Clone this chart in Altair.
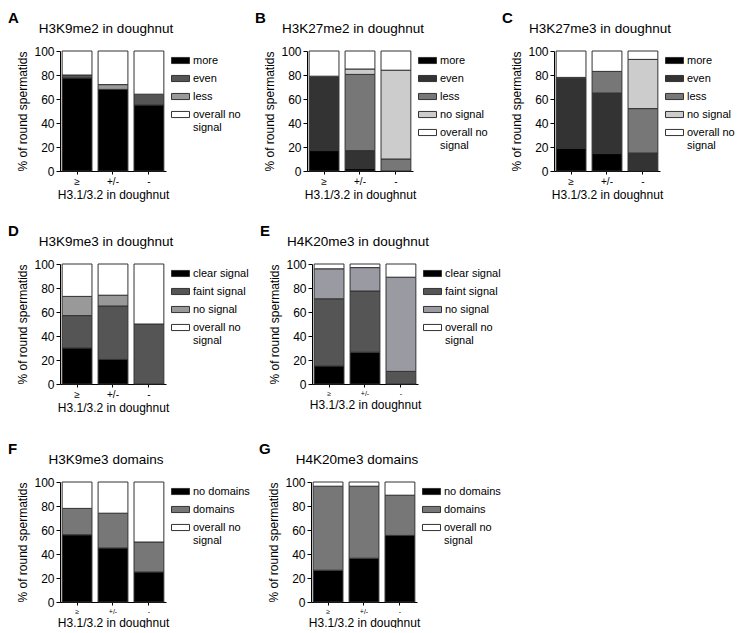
import altair as alt
import pandas as pd

groups = ["≥", "+/-", "-"]

# Panel A: H3K9me2 in doughnut
a_series = ["more", "even", "less", "overall no signal"]
a_colors = ["#000000", "#555555", "#999999", "#ffffff"]
a_more = [77.5, 68, 55]
a_even = [2.5, 0, 9]
a_less = [0, 4, 0]
a_none = [20, 28, 36]

# Panel B: H3K27me2 in doughnut
b_series = ["more", "even", "less", "no signal", "overall no signal"]
b_colors = ["#000000", "#333333", "#777777", "#cccccc", "#ffffff"]
b_more = [17, 2, 0]
b_even = [62, 15, 0]
b_less = [0, 63.5, 10]
b_nosig = [0, 4.5, 74]
b_none = [21, 15, 16]

# Panel C: H3K27me3 in doughnut
c_series = ["more", "even", "less", "no signal", "overall no signal"]
c_colors = ["#000000", "#333333", "#777777", "#cccccc", "#ffffff"]
c_more = [19, 14.5, 0]
c_even = [58, 50.5, 15]
c_less = [0, 18, 37]
c_nosig = [1, 0, 41]
c_none = [22, 17, 7]

# Panel D: H3K9me3 in doughnut
d_series = ["clear signal", "faint signal", "no signal", "overall no signal"]
d_colors = ["#000000", "#555555", "#999999", "#ffffff"]
d_clear = [30, 20.5, 0]
d_faint = [27, 44.5, 50]
d_nosig = [16, 9, 0]
d_none = [27, 26, 50]

# Panel E: H4K20me3 in doughnut
e_series = ["clear signal", "faint signal", "no signal", "overall no signal"]
e_colors = ["#000000", "#555555", "#9a9ba2", "#ffffff"]
e_clear = [15, 26.5, 0]
e_faint = [56, 51, 10.5]
e_nosig = [25, 19.5, 78.5]
e_none = [4, 3, 11]

# Panel F: H3K9me3 domains
f_series = ["no domains", "domains", "overall no signal"]
f_colors = ["#000000", "#777777", "#ffffff"]
f_nodom = [56, 45, 25]
f_dom = [22, 29, 25]
f_none = [22, 26, 50]

# Panel G: H4K20me3 domains
g_series = ["no domains", "domains", "overall no signal"]
g_colors = ["#000000", "#777777", "#ffffff"]
g_nodom = [26.5, 36.5, 55.5]
g_dom = [70, 60, 33.5]
g_none = [3.5, 3.5, 11]

FONT = "Liberation Sans"
SYMBOL = "M-1,-0.34H1V0.34H-1Z"


def panel(letter, title, series, colors, values, xlabel_size=10, letter_dx=-52, letter_dy=-40):
    rows = []
    for si, (s, vals) in enumerate(zip(series, values)):
        for g, v in zip(groups, vals):
            if v > 0:
                rows.append({"group": g, "series": s, "value": v, "idx": si})
    df = pd.DataFrame(rows)
    bars = alt.Chart(df).mark_bar(stroke="#333333", strokeWidth=1).encode(
        x=alt.X(
            "group:N",
            sort=groups,
            title="H3.1/3.2 in doughnut",
            scale=alt.Scale(paddingInner=0.17, paddingOuter=0.06),
            axis=alt.Axis(labelAngle=0, labelFontSize=xlabel_size, tickSize=3,
                          labelPadding=2, titlePadding=3, titleFontSize=12,
                          titleFontWeight="normal", domainColor="black",
                          tickColor="black", labelColor="black", titleColor="black"),
        ),
        y=alt.Y(
            "value:Q",
            stack="zero",
            scale=alt.Scale(domain=[0, 100]),
            axis=alt.Axis(values=[0, 20, 40, 60, 80, 100], title="% of round spermatids",
                          grid=False, tickSize=4, labelFontSize=12, labelPadding=2,
                          titleFontSize=12, titleFontWeight="normal", titlePadding=4,
                          domainColor="black", tickColor="black", labelColor="black",
                          titleColor="black"),
        ),
        color=alt.Color(
            "series:N",
            sort=series,
            scale=alt.Scale(domain=series, range=colors),
            legend=alt.Legend(
                title=None, orient="right", offset=5, padding=0,
                symbolType=SYMBOL, symbolSize=324, symbolStrokeColor="#333333",
                symbolStrokeWidth=1, labelFontSize=11, labelColor="black",
                rowPadding=3, labelOffset=3,
                labelExpr="datum.label == 'overall no signal' ? ['overall no', 'signal'] : datum.label",
            ),
        ),
        order=alt.Order("idx:Q", sort="ascending"),
    )
    lab = alt.Chart(pd.DataFrame({"t": [letter]})).mark_text(
        fontSize=15, fontWeight="bold", align="left", baseline="top", font=FONT
    ).encode(text="t:N", x=alt.value(letter_dx), y=alt.value(letter_dy))
    ttl = alt.Chart(pd.DataFrame({"t": [title]})).mark_text(
        fontSize=13.5, align="center", baseline="alphabetic", font=FONT, color="black"
    ).encode(text="t:N", x=alt.value(46), y=alt.value(-18))
    return alt.layer(bars, lab, ttl).properties(width=106, height=120)


pA = panel("A", "H3K9me2 in doughnut", a_series, a_colors, [a_more, a_even, a_less, a_none])
pB = panel("B", "H3K27me2 in doughnut", b_series, b_colors, [b_more, b_even, b_less, b_nosig, b_none])
pC = panel("C", "H3K27me3 in doughnut", c_series, c_colors, [c_more, c_even, c_less, c_nosig, c_none])
pD = panel("D", "H3K9me3 in doughnut", d_series, d_colors, [d_clear, d_faint, d_nosig, d_none])
pE = panel("E", "H4K20me3 in doughnut", e_series, e_colors, [e_clear, e_faint, e_nosig, e_none], xlabel_size=7)
pF = panel("F", "H3K9me3 domains", f_series, f_colors, [f_nodom, f_dom, f_none], xlabel_size=7)
pG = panel("G", "H4K20me3 domains", g_series, g_colors, [g_nodom, g_dom, g_none], xlabel_size=7)

res = dict(color="independent", x="independent", y="independent")
row1 = alt.hconcat(pA, pB, pC, spacing=14).resolve_scale(**res)
row2 = alt.hconcat(pD, pE, spacing=11).resolve_scale(**res)
row3 = alt.hconcat(pF, pG, spacing=9).resolve_scale(**res)
rows23 = alt.vconcat(row2, row3, spacing=29).resolve_scale(**res)

chart = alt.vconcat(row1, rows23, spacing=24).resolve_scale(**res).properties(
    padding={"top": 3, "left": 0, "right": 0, "bottom": 0}
).configure(font=FONT).configure_view(stroke=None)

chart.save("out.html", embed_options={"renderer": "svg", "actions": False})
